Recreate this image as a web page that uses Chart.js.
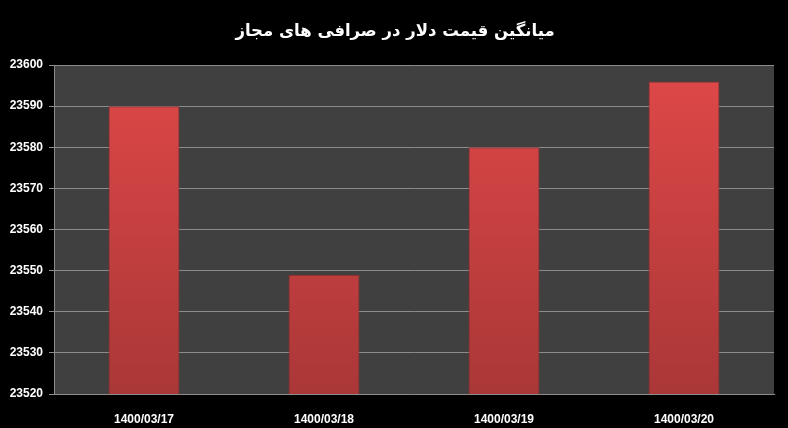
<!DOCTYPE html>
<html lang="fa">
<head>
    <meta charset="UTF-8">
    <title>میانگین قیمت دلار در صرافی های مجاز</title>
    <script src="https://cdn.jsdelivr.net/npm/chart.js"></script>
    <style>
        html, body { margin: 0; padding: 0; background: #000; }
        #wrap { width: 788px; height: 428px; }
    </style>
</head>
<body>
    <div id="wrap"><canvas id="priceChart" width="788" height="428"></canvas></div>

    <script>
        const chartTitle = 'میانگین قیمت دلار در صرافی های مجاز';
        const dates = ['1400/03/17', '1400/03/18', '1400/03/19', '1400/03/20'];
        const prices = [23590, 23549, 23580, 23596];
        const yMin = 23520;
        const yMax = 23600;
        const yStep = 10;

        // gray plot background behind bars
        const plotBackground = {
            id: 'plotBackground',
            beforeDraw(chart) {
                const { ctx, chartArea } = chart;
                ctx.save();
                ctx.fillStyle = '#404040';
                ctx.fillRect(chartArea.left, chartArea.top, chartArea.right - chartArea.left, chartArea.bottom - chartArea.top);
                ctx.restore();
            }
        };

        // title drawn centred on the page width
        const pageTitle = {
            id: 'pageTitle',
            afterDraw(chart) {
                const c = chart.ctx;
                c.save();
                c.fillStyle = '#ffffff';
                c.font = 'bold 16.5px Tahoma, "DejaVu Sans"';
                c.textAlign = 'center';
                c.textBaseline = 'middle';
                c.direction = 'rtl';
                c.fillText(chartTitle, 395, 32);
                c.restore();
            }
        };

        function barFill(context) {
            const chart = context.chart;
            const area = chart.chartArea;
            if (!area) return '#d04040';
            const g = chart.ctx.createLinearGradient(0, area.top, 0, area.bottom);
            g.addColorStop(0, '#e04848');
            g.addColorStop(1, '#aa3737');
            return g;
        }

        const ctx = document.getElementById('priceChart').getContext('2d');
        const priceChart = new Chart(ctx, {
            type: 'bar',
            data: {
                labels: dates,
                datasets: [{
                    data: prices,
                    backgroundColor: barFill,
                    borderColor: '#8e2c2c',
                    borderWidth: 1,
                    barPercentage: 0.395,
                    categoryPercentage: 1.0
                }]
            },
            options: {
                responsive: false,
                animation: false,
                layout: { padding: { top: 65, right: 14, left: 0, bottom: 0 } },
                plugins: {
                    legend: { display: false },
                    tooltip: { enabled: false },
                    title: { display: false }
                },
                scales: {
                    x: {
                        grid: { display: false },
                        border: { display: true, color: '#8c8c8c' },
                        ticks: {
                            color: '#ffffff',
                            padding: 10,
                            font: { family: '"Liberation Sans", Arial', size: 12, weight: 'bold' }
                        },
                        afterFit(scale) { scale.height = 34; }
                    },
                    y: {
                        min: yMin,
                        max: yMax,
                        grid: { color: '#8c8c8c', tickLength: 5, lineWidth: 1 },
                        border: { display: true, color: '#8c8c8c' },
                        ticks: {
                            stepSize: yStep,
                            color: '#ffffff',
                            padding: 6,
                            font: { family: '"Liberation Sans", Arial', size: 12, weight: 'bold' },
                            callback: (v) => String(v)
                        },
                        afterFit(scale) { scale.width = 54; }
                    }
                }
            },
            plugins: [plotBackground, pageTitle]
        });
    </script>
</body>
</html>
